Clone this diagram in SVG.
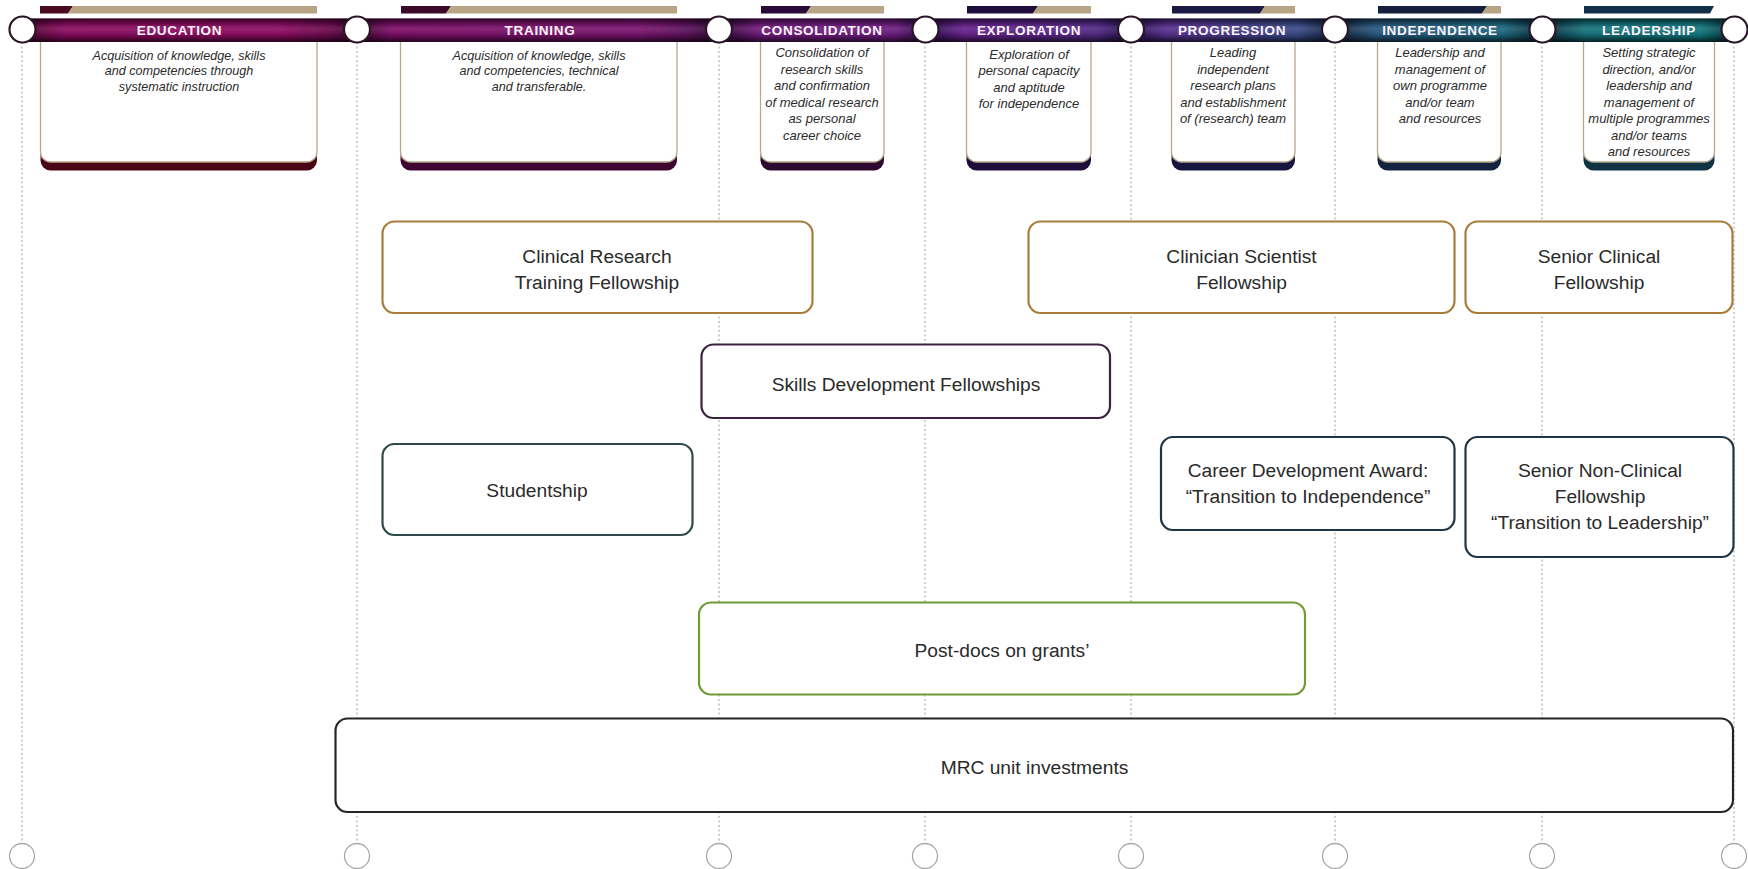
<svg xmlns="http://www.w3.org/2000/svg" width="1748" height="869" viewBox="0 0 1748 869">
<defs>
<style>
.vl{stroke:#b4b4b4;stroke-width:1.3;stroke-dasharray:2 2.5;fill:none}
.tc{fill:#fff;stroke:#2a1626;stroke-width:2.2}
.bc{fill:#fff;stroke:#a8a8a8;stroke-width:1.3}
.lbl{font-family:"Liberation Sans",Arial,sans-serif;font-weight:bold;font-size:13.5px;letter-spacing:0.7px;fill:#fbf3f8;text-anchor:middle}
.dsc{font-family:"Liberation Sans",Arial,sans-serif;font-style:italic;font-size:13px;fill:#2b2b2b;text-anchor:middle}
.dsw{font-size:12.6px}
.body{fill:#fff;stroke:#b9a88c;stroke-width:1.3}
.tan{fill:#b7a585}
.node{fill:#fff;stroke-width:2.2}
.gold{stroke:#a97c3c}
.purp{stroke:#3c2240}
.slate{stroke:#2f4a4a}
.navy{stroke:#1e3545}
.green{stroke:#6f9b36}
.black{stroke:#262626}
.nt{font-family:"Liberation Sans",Arial,sans-serif;font-size:19.2px;fill:#2a2a2a;text-anchor:middle}
</style>
<linearGradient id="band" x1="22" y1="0" x2="1735" y2="0" gradientUnits="userSpaceOnUse">
<stop offset="0" stop-color="#4a0630"/>
<stop offset="0.025" stop-color="#8a0c60"/>
<stop offset="0.15" stop-color="#8c0c62"/>
<stop offset="0.18" stop-color="#6a0a4c"/>
<stop offset="0.195" stop-color="#3a062c"/>
<stop offset="0.215" stop-color="#7c0e66"/>
<stop offset="0.36" stop-color="#7a1470"/>
<stop offset="0.39" stop-color="#5a1058"/>
<stop offset="0.407" stop-color="#2e0838"/>
<stop offset="0.43" stop-color="#721a7c"/>
<stop offset="0.51" stop-color="#6c1e82"/>
<stop offset="0.527" stop-color="#2a0c44"/>
<stop offset="0.55" stop-color="#66228c"/>
<stop offset="0.627" stop-color="#542a88"/>
<stop offset="0.647" stop-color="#24124a"/>
<stop offset="0.668" stop-color="#58308e"/>
<stop offset="0.745" stop-color="#3a4a88"/>
<stop offset="0.766" stop-color="#122038"/>
<stop offset="0.79" stop-color="#28587e"/>
<stop offset="0.865" stop-color="#1c6880"/>
<stop offset="0.887" stop-color="#0c2838"/>
<stop offset="0.912" stop-color="#16727c"/>
<stop offset="0.98" stop-color="#127880"/>
<stop offset="1" stop-color="#083038"/>
</linearGradient>
<linearGradient id="shade" x1="0" y1="0" x2="0" y2="1">
<stop offset="0" stop-color="#000" stop-opacity="0.65"/>
<stop offset="0.25" stop-color="#000" stop-opacity="0.15"/>
<stop offset="0.45" stop-color="#fff" stop-opacity="0.08"/>
<stop offset="0.7" stop-color="#000" stop-opacity="0.1"/>
<stop offset="1" stop-color="#000" stop-opacity="0.7"/>
</linearGradient>
<radialGradient id="cf" cx="0.45" cy="0.4" r="0.6">
<stop offset="0" stop-color="#ffffff"/>
<stop offset="0.8" stop-color="#f7f7f7"/>
<stop offset="1" stop-color="#dcdcdc"/>
</radialGradient>
</defs>
<rect width="1748" height="869" fill="#ffffff"/>

<g id="guides">
<line class="vl" x1="22" y1="42" x2="22" y2="843"/>
<line class="vl" x1="357" y1="42" x2="357" y2="843"/>
<line class="vl" x1="719" y1="42" x2="719" y2="843"/>
<line class="vl" x1="925" y1="42" x2="925" y2="843"/>
<line class="vl" x1="1131" y1="42" x2="1131" y2="843"/>
<line class="vl" x1="1335" y1="42" x2="1335" y2="843"/>
<line class="vl" x1="1542" y1="42" x2="1542" y2="843"/>
<line class="vl" x1="1734" y1="42" x2="1734" y2="843"/>
<circle class="bc" cx="22" cy="856" r="12.5"/>
<circle class="bc" cx="357" cy="856" r="12.5"/>
<circle class="bc" cx="719" cy="856" r="12.5"/>
<circle class="bc" cx="925" cy="856" r="12.5"/>
<circle class="bc" cx="1131" cy="856" r="12.5"/>
<circle class="bc" cx="1335" cy="856" r="12.5"/>
<circle class="bc" cx="1542" cy="856" r="12.5"/>
<circle class="bc" cx="1734" cy="856" r="12.5"/>
</g>

<g id="stage-boxes">
<g id="box-education">
<polygon points="40,6 73,6 68,13.5 40,13.5" fill="#4a0a22"/>
<polygon class="tan" points="73,6 317,6 317,13.5 68,13.5"/>
<rect x="40.5" y="146" width="276.5" height="24.5" rx="10" fill="#4a0612"/>
<path class="body" d="M40.5,36 V152 A10,10 0 0 0 50.5,162 H307 A10,10 0 0 0 317,152 V36 Z"/>
<text class="dsc dsw" x="179" y="59.5">Acquisition of knowledge, skills</text>
<text class="dsc dsw" x="179" y="75">and competencies through</text>
<text class="dsc dsw" x="179" y="90.5">systematic instruction</text>
</g>
<g id="box-training">
<polygon points="401,6 451,6 446,13.5 401,13.5" fill="#3a0a28"/>
<polygon class="tan" points="451,6 677,6 677,13.5 446,13.5"/>
<rect x="400.5" y="146" width="276.5" height="24.5" rx="10" fill="#3e0630"/>
<path class="body" d="M400.5,36 V152 A10,10 0 0 0 410.5,162 H667 A10,10 0 0 0 677,152 V36 Z"/>
<text class="dsc dsw" x="539" y="59.5">Acquisition of knowledge, skills</text>
<text class="dsc dsw" x="539" y="75">and competencies, technical</text>
<text class="dsc dsw" x="539" y="90.5">and transferable.</text>
</g>
<g id="box-consolidation">
<polygon points="761,6 811,6 806,13.5 761,13.5" fill="#2a0a38"/>
<polygon class="tan" points="811,6 884,6 884,13.5 806,13.5"/>
<rect x="760.5" y="146" width="123.5" height="24.5" rx="10" fill="#2e0a30"/>
<path class="body" d="M760.5,36 V152 A10,10 0 0 0 770.5,162 H874 A10,10 0 0 0 884,152 V36 Z"/>
<text class="dsc" x="822" y="57">Consolidation of</text>
<text class="dsc" x="822" y="73.5">research skills</text>
<text class="dsc" x="822" y="90">and confirmation</text>
<text class="dsc" x="822" y="106.5">of medical research</text>
<text class="dsc" x="822" y="123">as personal</text>
<text class="dsc" x="822" y="139.5">career choice</text>
</g>
<g id="box-exploration">
<polygon points="967,6 1038,6 1033,13.5 967,13.5" fill="#1e0e3e"/>
<polygon class="tan" points="1038,6 1091,6 1091,13.5 1033,13.5"/>
<rect x="966.5" y="146" width="124.5" height="24.5" rx="10" fill="#1e0c3a"/>
<path class="body" d="M966.5,36 V152 A10,10 0 0 0 976.5,162 H1081 A10,10 0 0 0 1091,152 V36 Z"/>
<text class="dsc" x="1029" y="58.5">Exploration of</text>
<text class="dsc" x="1029" y="75">personal capacity</text>
<text class="dsc" x="1029" y="91.5">and aptitude</text>
<text class="dsc" x="1029" y="108">for independence</text>
</g>
<g id="box-progression">
<polygon points="1172,6 1265,6 1260,13.5 1172,13.5" fill="#1a1a44"/>
<polygon class="tan" points="1265,6 1295,6 1295,13.5 1260,13.5"/>
<rect x="1171.5" y="146" width="123.5" height="24.5" rx="10" fill="#17163e"/>
<path class="body" d="M1171.5,36 V152 A10,10 0 0 0 1181.5,162 H1285 A10,10 0 0 0 1295,152 V36 Z"/>
<text class="dsc" x="1233" y="57">Leading</text>
<text class="dsc" x="1233" y="73.5">independent</text>
<text class="dsc" x="1233" y="90">research plans</text>
<text class="dsc" x="1233" y="106.5">and establishment</text>
<text class="dsc" x="1233" y="123">of (research) team</text>
</g>
<g id="box-independence">
<polygon points="1378,6 1487,6 1482,13.5 1378,13.5" fill="#16203e"/>
<polygon class="tan" points="1487,6 1501,6 1501,13.5 1482,13.5"/>
<rect x="1377.5" y="146" width="123.5" height="24.5" rx="10" fill="#142440"/>
<path class="body" d="M1377.5,36 V152 A10,10 0 0 0 1387.5,162 H1491 A10,10 0 0 0 1501,152 V36 Z"/>
<text class="dsc" x="1440" y="57">Leadership and</text>
<text class="dsc" x="1440" y="73.5">management of</text>
<text class="dsc" x="1440" y="90">own programme</text>
<text class="dsc" x="1440" y="106.5">and/or team</text>
<text class="dsc" x="1440" y="123">and resources</text>
</g>
<g id="box-leadership">
<polygon points="1584,6 1714,6 1710,13.5 1584,13.5" fill="#12304a"/>
<rect x="1583.5" y="146" width="131" height="24.5" rx="10" fill="#0f3344"/>
<path class="body" d="M1583.5,36 V152 A10,10 0 0 0 1593.5,162 H1704.5 A10,10 0 0 0 1714.5,152 V36 Z"/>
<text class="dsc" x="1649" y="57">Setting strategic</text>
<text class="dsc" x="1649" y="73.5">direction, and/or</text>
<text class="dsc" x="1649" y="90">leadership and</text>
<text class="dsc" x="1649" y="106.5">management of</text>
<text class="dsc" x="1649" y="123">multiple programmes</text>
<text class="dsc" x="1649" y="139.5">and/or teams</text>
<text class="dsc" x="1649" y="156">and resources</text>
</g>
</g>

<g id="timeline-band">
<rect x="22" y="18.5" width="1713" height="23.5" fill="url(#band)"/>
<rect x="22" y="18.5" width="1713" height="23.5" fill="url(#shade)"/>
<text class="lbl" x="179.5" y="35">EDUCATION</text>
<text class="lbl" x="540" y="35">TRAINING</text>
<text class="lbl" x="822" y="35">CONSOLIDATION</text>
<text class="lbl" x="1029" y="35">EXPLORATION</text>
<text class="lbl" x="1232" y="35">PROGRESSION</text>
<text class="lbl" x="1440" y="35">INDEPENDENCE</text>
<text class="lbl" x="1649" y="35">LEADERSHIP</text>
<circle class="tc" cx="22.5" cy="29.5" r="13" fill="url(#cf)"/>
<circle class="tc" cx="357" cy="29.5" r="13" fill="url(#cf)"/>
<circle class="tc" cx="719" cy="29.5" r="13" fill="url(#cf)"/>
<circle class="tc" cx="925.5" cy="29.5" r="13" fill="url(#cf)"/>
<circle class="tc" cx="1131" cy="29.5" r="13" fill="url(#cf)"/>
<circle class="tc" cx="1335" cy="29.5" r="13" fill="url(#cf)"/>
<circle class="tc" cx="1542.5" cy="29.5" r="13" fill="url(#cf)"/>
<circle class="tc" cx="1734.5" cy="29.5" r="13" fill="url(#cf)"/>
</g>

<g id="connectors"></g>

<g id="node-crtf">
<rect class="node gold" x="382.5" y="221.5" width="430" height="91.5" rx="12"/>
<text class="nt" x="597" y="262.5">Clinical Research</text>
<text class="nt" x="597" y="288.5">Training Fellowship</text>
</g>
<g id="node-csf">
<rect class="node gold" x="1028.5" y="221.5" width="426" height="91.5" rx="12"/>
<text class="nt" x="1241.5" y="262.5">Clinician Scientist</text>
<text class="nt" x="1241.5" y="288.5">Fellowship</text>
</g>
<g id="node-scf">
<rect class="node gold" x="1465.5" y="221.5" width="267" height="91.5" rx="12"/>
<text class="nt" x="1599" y="262.5">Senior Clinical</text>
<text class="nt" x="1599" y="288.5">Fellowship</text>
</g>
<g id="node-sdf">
<rect class="node purp" x="701.5" y="344.5" width="408.5" height="73.5" rx="12"/>
<text class="nt" x="906" y="390.5">Skills Development Fellowships</text>
</g>
<g id="node-studentship">
<rect class="node slate" x="382.5" y="444" width="310" height="91" rx="12"/>
<text class="nt" x="537" y="496.5">Studentship</text>
</g>
<g id="node-cda">
<rect class="node navy" x="1161" y="437" width="293.5" height="93" rx="12"/>
<text class="nt" x="1308" y="476.5">Career Development Award:</text>
<text class="nt" x="1308" y="502.5">“Transition to Independence”</text>
</g>
<g id="node-sncf">
<rect class="node navy" x="1465.5" y="437" width="268" height="120" rx="12"/>
<text class="nt" x="1600" y="476.5">Senior Non-Clinical</text>
<text class="nt" x="1600" y="502.5">Fellowship</text>
<text class="nt" x="1600" y="528.5">“Transition to Leadership”</text>
</g>
<g id="node-postdocs">
<rect class="node green" x="699" y="602.5" width="606" height="92" rx="12"/>
<text class="nt" x="1002" y="656.5">Post-docs on grants’</text>
</g>
<g id="node-mrc">
<rect class="node black" x="335.5" y="718.5" width="1397.5" height="93.5" rx="12"/>
<text class="nt" x="1034.5" y="774">MRC unit investments</text>
</g>
</svg>
